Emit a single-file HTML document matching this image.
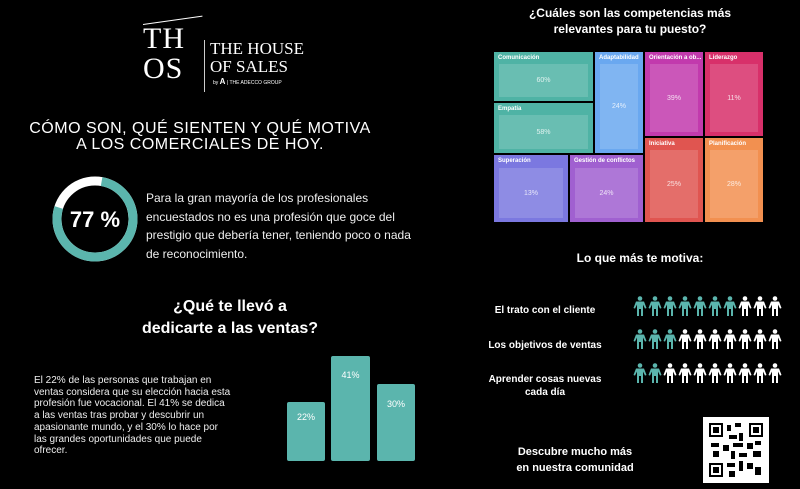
<!DOCTYPE html>
<html><head><meta charset="utf-8"><style>
body{margin:0;background:#000;}
#c{position:relative;width:800px;height:489px;background:#000;overflow:hidden;font-family:"Liberation Sans",sans-serif;color:#fff;}
.a{position:absolute;}
.t{position:absolute;font-size:6px;font-weight:bold;color:#fff;}
.in{position:absolute;background:rgba(255,255,255,0.15);color:rgba(255,255,255,0.8);font-size:7px;display:flex;align-items:center;justify-content:center;}
</style></head><body><div id="c">
<!-- logo -->
<div class="a" style="left:143px;top:14px;width:60px;height:1px;background:#fff;transform:rotate(-8deg);transform-origin:left;top:24px"></div>
<div class="a" style="left:143px;top:24px;font-family:'Liberation Serif',serif;font-size:30px;line-height:30px;letter-spacing:1px;font-weight:300">TH<br>OS</div>
<div class="a" style="left:204px;top:40px;width:1px;height:52px;background:#ccc"></div>
<div class="a" style="left:210px;top:40px;font-family:'Liberation Serif',serif;font-size:17px;line-height:18px">THE HOUSE<br>OF SALES</div>
<div class="a" style="left:213px;top:77px;font-size:5px">by <b style="font-size:8px">A</b> | THE ADECCO GROUP</div>
<div class="a" style="left:0;top:121px;width:400px;text-align:center;font-size:16px;line-height:16px;letter-spacing:0.5px">CÓMO SON, QUÉ SIENTEN Y QUÉ MOTIVA<br>A LOS COMERCIALES DE HOY.</div>
<svg class="a" style="left:0;top:0" width="140" height="300"><circle cx="95" cy="219" r="38" fill="none" stroke="#fff" stroke-width="9"/><circle cx="95" cy="219" r="38" fill="none" stroke="#5bb5ad" stroke-width="9" stroke-dasharray="183.9 300" transform="rotate(-80 95 219)"/><text x="95" y="227" text-anchor="middle" font-size="22" font-weight="bold" fill="#fff" font-family="Liberation Sans">77 %</text></svg>
<div class="a" style="left:146px;top:189px;font-size:12px;line-height:18.5px;color:#eee">Para la gran mayoría de los profesionales<br>encuestados no es una profesión que goce del<br>prestigio que debería tener, teniendo poco o nada<br>de reconocimiento.</div>
<div class="a" style="left:120px;top:296px;width:220px;text-align:center;font-size:16px;font-weight:bold;line-height:22px">¿Qué te llevó a<br>dedicarte a las ventas?</div>
<div class="a" style="left:34px;top:375px;font-size:10px;line-height:11.7px;color:#eee">El 22% de las personas que trabajan en<br>ventas considera que su elección hacia esta<br>profesión fue vocacional. El 41% se dedica<br>a las ventas tras probar y descubrir un<br>apasionante mundo, y el 30% lo hace por<br>las grandes oportunidades que puede<br>ofrecer.</div>
<div class="a" style="left:287px;top:402px;width:38px;height:59px;background:#5bb5ad;border-radius:2px;text-align:center;font-size:9px;padding-top:10px;box-sizing:border-box">22%</div>
<div class="a" style="left:331px;top:356px;width:39px;height:105px;background:#5bb5ad;border-radius:2px;text-align:center;font-size:9px;padding-top:14px;box-sizing:border-box">41%</div>
<div class="a" style="left:377px;top:384px;width:38px;height:77px;background:#5bb5ad;border-radius:2px;text-align:center;font-size:9px;padding-top:15px;box-sizing:border-box">30%</div>
<!-- right -->
<div class="a" style="left:500px;top:5px;width:260px;text-align:center;font-size:12px;font-weight:bold;line-height:16px">¿Cuáles son las competencias más<br>relevantes para tu puesto?</div>
<div class="a" style="left:494px;top:52px;width:99px;height:49px;background:#4fb3a5"><span class="t" style="left:4px;top:3px">Comunicación</span><div class="in" style="left:5px;top:12px;width:89px;height:33px">60%</div></div>
<div class="a" style="left:494px;top:103px;width:99px;height:50px;background:#4fb3a5"><span class="t" style="left:4px;top:3px">Empatía</span><div class="in" style="left:5px;top:12px;width:89px;height:34px">58%</div></div>
<div class="a" style="left:595px;top:52px;width:48px;height:101px;background:#6aa8f0"><span class="t" style="left:4px;top:3px">Adaptabilidad</span><div class="in" style="left:5px;top:12px;width:38px;height:85px">24%</div></div>
<div class="a" style="left:494px;top:155px;width:74px;height:67px;background:#7b78e0"><span class="t" style="left:4px;top:3px">Superación</span><div class="in" style="left:5px;top:13px;width:64px;height:50px">13%</div></div>
<div class="a" style="left:570px;top:155px;width:73px;height:67px;background:#a060d0"><span class="t" style="left:4px;top:3px">Gestión de conflictos</span><div class="in" style="left:5px;top:13px;width:63px;height:50px">24%</div></div>
<div class="a" style="left:645px;top:52px;width:58px;height:84px;background:#c23aad"><span class="t" style="left:4px;top:3px">Orientación a ob...</span><div class="in" style="left:5px;top:12px;width:48px;height:68px">39%</div></div>
<div class="a" style="left:705px;top:52px;width:58px;height:84px;background:#d8306a"><span class="t" style="left:4px;top:3px">Liderazgo</span><div class="in" style="left:5px;top:12px;width:48px;height:68px">11%</div></div>
<div class="a" style="left:645px;top:138px;width:58px;height:84px;background:#e05550"><span class="t" style="left:4px;top:3px">Iniciativa</span><div class="in" style="left:5px;top:12px;width:48px;height:68px">25%</div></div>
<div class="a" style="left:705px;top:138px;width:58px;height:84px;background:#f29050"><span class="t" style="left:4px;top:3px">Planificación</span><div class="in" style="left:5px;top:12px;width:48px;height:68px">28%</div></div>
<div class="a" style="left:540px;top:251px;width:200px;text-align:center;font-size:12px;font-weight:bold">Lo que más te motiva:</div>
<div class="a" style="left:470px;top:305px;width:150px;text-align:center;font-size:10px;font-weight:bold">El trato con el cliente</div>
<div class="a" style="left:470px;top:340px;width:150px;text-align:center;font-size:10px;font-weight:bold">Los objetivos de ventas</div>
<div class="a" style="left:470px;top:373px;width:150px;text-align:center;font-size:10px;font-weight:bold;line-height:13px">Aprender cosas nuevas<br>cada día</div>
<svg class="a" style="left:630px;top:296px" width="160" height="100">
<defs><g id="p"><circle cx="7" cy="2.5" r="2.3"/><path d="M3 5.5h8l2.5 6.5-1.5.6L10 8.5V20H8v-7H6v7H4V8.5L2 12.6.5 12z"/></g></defs>
<g fill="#5bb5ad"><use href="#p" x="3"/><use href="#p" x="18"/><use href="#p" x="33"/><use href="#p" x="48"/><use href="#p" x="63"/><use href="#p" x="78"/><use href="#p" x="93"/>
<use href="#p" x="3" y="33"/><use href="#p" x="18" y="33"/><use href="#p" x="33" y="33"/>
<use href="#p" x="3" y="67"/><use href="#p" x="18" y="67"/></g>
<g fill="#fff"><use href="#p" x="108"/><use href="#p" x="123"/><use href="#p" x="138"/>
<use href="#p" x="48" y="33"/><use href="#p" x="63" y="33"/><use href="#p" x="78" y="33"/><use href="#p" x="93" y="33"/><use href="#p" x="108" y="33"/><use href="#p" x="123" y="33"/><use href="#p" x="138" y="33"/>
<use href="#p" x="33" y="67"/><use href="#p" x="48" y="67"/><use href="#p" x="63" y="67"/><use href="#p" x="78" y="67"/><use href="#p" x="93" y="67"/><use href="#p" x="108" y="67"/><use href="#p" x="123" y="67"/><use href="#p" x="138" y="67"/></g></svg>
<div class="a" style="left:500px;top:444px;width:150px;text-align:center;font-size:11px;font-weight:bold;line-height:16px">Descubre mucho más<br>en nuestra comunidad</div>
<div class="a" style="left:703px;top:417px;width:66px;height:66px;background:#fff"></div>
<svg class="a" style="left:709px;top:423px" width="54" height="54"><g fill="#000">
<rect x="0" y="0" width="14" height="14"/><rect x="40" y="0" width="14" height="14"/><rect x="0" y="40" width="14" height="14"/>
<rect x="18" y="2" width="4" height="6"/><rect x="26" y="0" width="6" height="4"/><rect x="20" y="12" width="8" height="4"/><rect x="30" y="10" width="4" height="8"/><rect x="2" y="20" width="8" height="4"/><rect x="14" y="22" width="6" height="6"/><rect x="24" y="20" width="10" height="4"/><rect x="38" y="20" width="6" height="6"/><rect x="46" y="18" width="6" height="4"/><rect x="4" y="28" width="6" height="6"/><rect x="22" y="28" width="4" height="8"/><rect x="30" y="30" width="8" height="4"/><rect x="44" y="28" width="8" height="6"/><rect x="18" y="40" width="8" height="4"/><rect x="30" y="38" width="4" height="10"/><rect x="38" y="40" width="6" height="6"/><rect x="46" y="44" width="6" height="8"/><rect x="20" y="48" width="6" height="6"/></g>
<g fill="#fff"><rect x="2" y="2" width="10" height="10"/><rect x="42" y="2" width="10" height="10"/><rect x="2" y="42" width="10" height="10"/></g>
<g fill="#000"><rect x="4" y="4" width="6" height="6"/><rect x="44" y="4" width="6" height="6"/><rect x="4" y="44" width="6" height="6"/></g></svg>
</div></body></html>
